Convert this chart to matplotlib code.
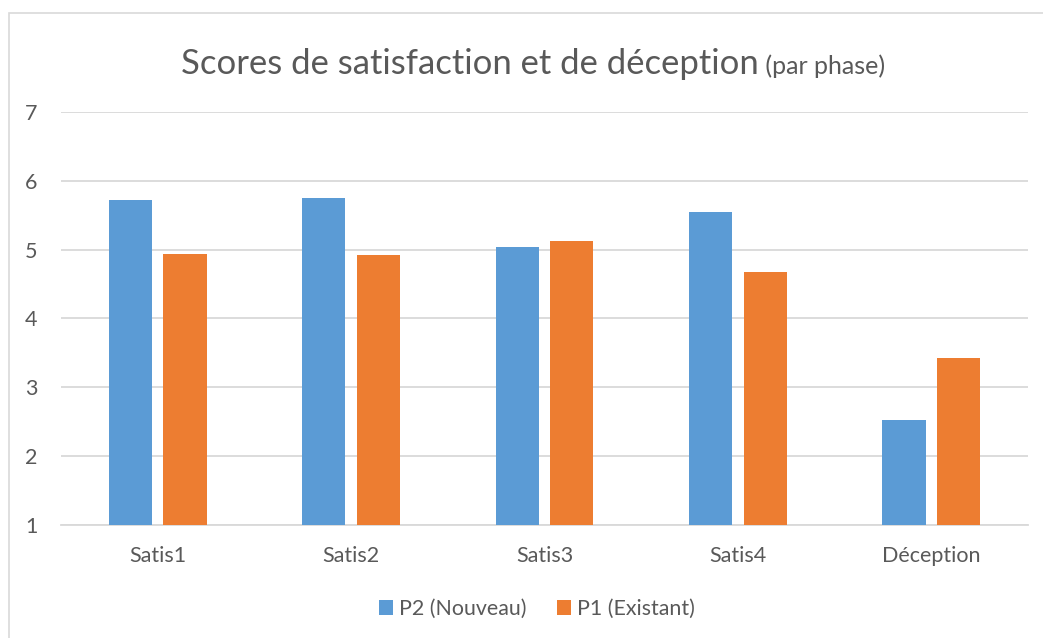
import matplotlib
matplotlib.use("Agg")
import matplotlib.pyplot as plt
import numpy as np
from matplotlib.patches import Rectangle

plt.rcParams['font.family'] = ['Lato', 'DejaVu Sans']

categories = ['Satis1', 'Satis2', 'Satis3', 'Satis4', 'Déception']
p2_nouveau = [5.72, 5.75, 5.04, 5.55, 2.52]
p1_existant = [4.93, 4.92, 5.13, 4.68, 3.42]
series_names = ['P2 (Nouveau)', 'P1 (Existant)']

blue = '#5B9BD5'
orange = '#ED7D31'
grid_c = '#D9D9D9'
txt_c = '#595959'

fig = plt.figure(figsize=(10.43, 6.38), dpi=100)
# cadre du graphique
fig.patches.append(Rectangle((9 / 1043, -0.1), 1.2, (638 - 13) / 638 + 0.1,
                             transform=fig.transFigure, fill=False,
                             edgecolor='#D9D9D9', linewidth=1.2))

ax = fig.add_axes([61 / 1043, 113.3 / 638, 967 / 1043, 412.6 / 638])
x = np.arange(len(categories))
w = 0.224
off = 0.141
ax.bar(x - off, p2_nouveau, w, color=blue, label=series_names[0], zorder=3)
ax.bar(x + off, p1_existant, w, color=orange, label=series_names[1], zorder=3)

ax.set_xlim(-0.5, len(categories) - 0.5)
ax.set_ylim(1, 7)
ax.set_yticks(range(1, 8))
ax.yaxis.grid(True, color=grid_c, linewidth=1.3, zorder=0)
ax.set_axisbelow(True)
for s in ['top', 'right', 'left']:
    ax.spines[s].set_visible(False)
ax.spines['bottom'].set_color(grid_c)
ax.spines['bottom'].set_linewidth(1.3)
ax.tick_params(length=0, labelsize=15.5, colors=txt_c)
ax.tick_params(axis='y', pad=17)
ax.tick_params(axis='x', pad=15.5)
ax.set_xticks(x)
ax.set_xticklabels(categories)

leg = fig.legend(loc='center', bbox_to_anchor=(537 / 1043, 1 - 609 / 638), ncol=2,
                 frameon=False, fontsize=15.4, handlelength=0.65, handleheight=0.65,
                 handletextpad=0.3, columnspacing=1.4, labelcolor=txt_c)

# titre en deux parties, centré ensemble
fig.canvas.draw()
r = fig.canvas.get_renderer()
ty = 1 - 74 / 638
t1 = fig.text(0, ty, 'Scores de satisfaction et de déception', fontsize=24.9,
              color=txt_c, ha='left', va='baseline')
t2 = fig.text(0, ty, ' (par phase)', fontsize=18, color=txt_c, ha='left', va='baseline')
w1 = t1.get_window_extent(r).width
w2 = t2.get_window_extent(r).width
x0 = 533 - (w1 + w2) / 2
t1.set_x(x0 / 1043)
t2.set_x((x0 + w1) / 1043)

fig.savefig('out.png', dpi=100)
